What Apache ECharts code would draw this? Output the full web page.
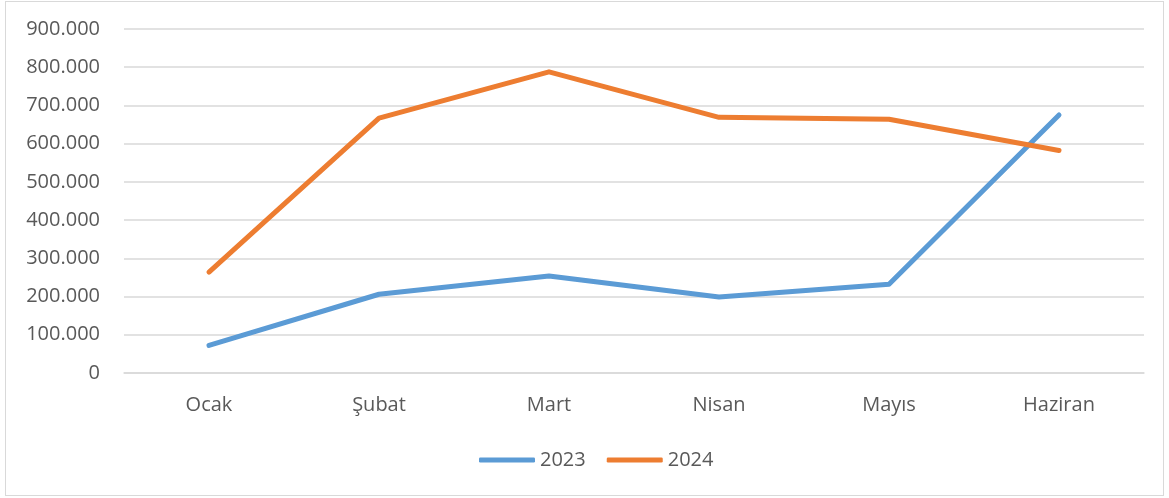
<!DOCTYPE html>
<html>
<head>
<meta charset="utf-8">
<script src="https://cdn.jsdelivr.net/npm/echarts@6/dist/echarts.min.js"></script>
<style>
  html, body { margin: 0; padding: 0; background: #fff; }
  #frame { position: absolute; left: 5px; top: 1px; width: 1157px; height: 493px; border: 1px solid #D9D9D9; }
  #chart { position: absolute; left: 0; top: 0; width: 1169px; height: 498px; }
</style>
</head>
<body>
<div id="frame"></div>
<div id="chart"></div>
<script>
const categories = ['Ocak', 'Şubat', 'Mart', 'Nisan', 'Mayıs', 'Haziran']
const values2023 = [72000, 206000, 254000, 199000, 232000, 675000]
const values2024 = [264000, 667000, 788000, 669000, 664000, 582000]
const seriesNames = ['2023', '2024']

const fontColor = '#595959'
const gridColor = '#D9D9D9'
const fontFamily = '"Open Sans", sans-serif'

// tr-TR binlik ayırıcı: 100.000
const formatNumber = value => String(value).replace(/\B(?=(\d{3})+(?!\d))/g, '.')

const myChart = echarts.init(document.getElementById('chart'))
myChart.setOption({
  animation: false,
  color: ['#5B9BD5', '#ED7D31'],
  textStyle: { fontFamily: fontFamily },
  grid: { left: 124, right: 25, top: 29, bottom: 125 },
  legend: {
    data: seriesNames,
    bottom: 23,
    left: 474,
    icon: 'roundRect',
    itemWidth: 56,
    itemHeight: 5,
    itemGap: 21,
    textStyle: { color: fontColor, fontSize: 20, fontFamily: fontFamily }
  },
  xAxis: {
    type: 'category',
    data: categories,
    boundaryGap: true,
    axisTick: { show: false },
    axisLine: { lineStyle: { color: gridColor, width: 1.5 } },
    axisLabel: { color: fontColor, fontSize: 20, margin: 22, fontFamily: fontFamily }
  },
  yAxis: {
    type: 'value',
    min: 0,
    max: 900000,
    interval: 100000,
    axisLine: { show: false },
    axisTick: { show: false },
    splitLine: { lineStyle: { color: gridColor, width: 1.5 } },
    axisLabel: { color: fontColor, fontSize: 20, margin: 24, fontFamily: fontFamily, formatter: formatNumber }
  },
  series: [
    {
      name: seriesNames[0],
      type: 'line',
      data: values2023,
      showSymbol: false,
      symbol: 'none',
      lineStyle: { width: 5, cap: 'round', join: 'round' }
    },
    {
      name: seriesNames[1],
      type: 'line',
      data: values2024,
      showSymbol: false,
      symbol: 'none',
      lineStyle: { width: 5, cap: 'round', join: 'round' }
    }
  ]
})
</script>
</body>
</html>
